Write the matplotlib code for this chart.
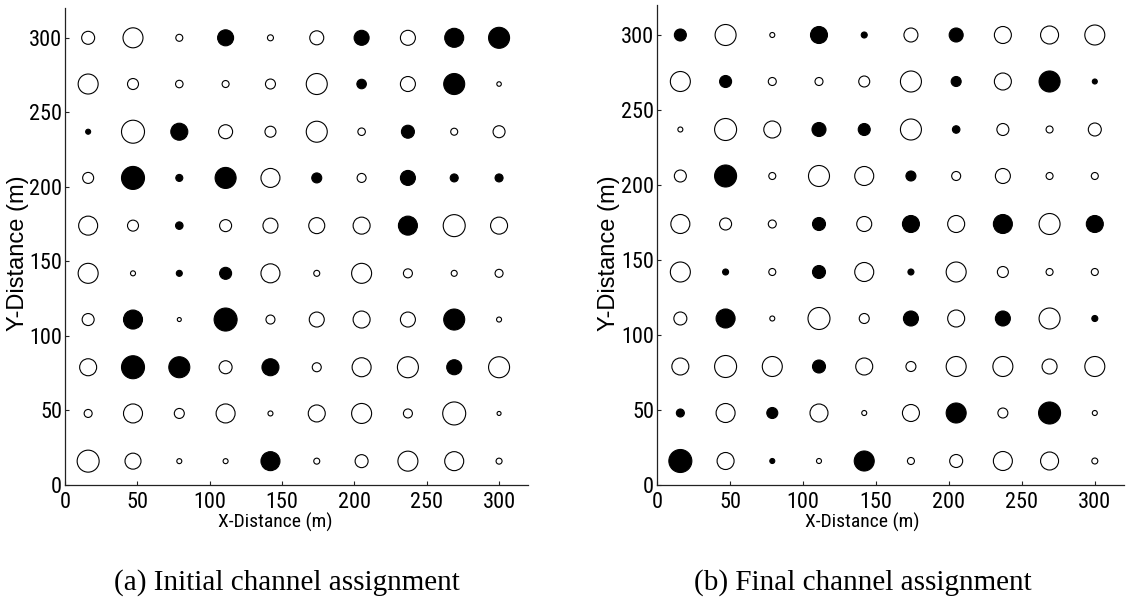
import matplotlib
matplotlib.use("Agg")
import matplotlib.pyplot as plt
from matplotlib import font_manager as fm
import numpy as np

# ---------------- data ----------------
node_x = [16, 47, 79, 111, 142, 174, 205, 237, 269, 300]
node_y = [300, 269, 237, 206, 174, 142, 111, 79, 48, 16]   # rows listed top to bottom
x_ticks = [0, 50, 100, 150, 200, 250, 300]
y_ticks = [0, 50, 100, 150, 200, 250, 300]

# circle sizes (apparent diameter) per node, rows top -> bottom
a_size = [
    [13, 20, 7, 16, 6, 14, 15, 15, 19, 21],
    [20, 11, 7.5, 7, 10, 21, 9.5, 15, 21, 4.5],
    [5, 23, 17, 14, 11, 21, 7.5, 13, 7, 12],
    [11, 23, 7, 21, 19, 10, 9, 15, 8, 8],
    [19, 11, 7.5, 12, 15, 16, 17, 19, 22, 17],
    [20, 5, 6, 12, 19, 6, 20, 9, 6, 8],
    [12, 19, 4, 23, 9, 15, 17, 15, 21, 5],
    [17, 23, 21, 13, 17, 9, 19, 21, 15, 21],
    [8, 19, 10, 19, 5, 17, 20, 9, 23, 4],
    [22, 16, 5, 5, 19, 6, 13, 20, 19, 6],
]
# 1 = filled (black), 0 = open
a_fill = [
    [0, 0, 0, 1, 0, 0, 1, 0, 1, 1],
    [0, 0, 0, 0, 0, 0, 1, 0, 1, 0],
    [1, 0, 1, 0, 0, 0, 0, 1, 0, 0],
    [0, 1, 1, 1, 0, 1, 0, 1, 1, 1],
    [0, 0, 1, 0, 0, 0, 0, 1, 0, 0],
    [0, 0, 1, 1, 0, 0, 0, 0, 0, 0],
    [0, 1, 0, 1, 0, 0, 0, 0, 1, 0],
    [0, 1, 1, 0, 1, 0, 0, 0, 1, 0],
    [0, 0, 0, 0, 0, 0, 0, 0, 0, 0],
    [0, 0, 0, 0, 1, 0, 0, 0, 0, 0],
]
b_size = [
    [12, 21, 5, 17, 6, 14, 14, 17, 18, 20],
    [20, 12, 8, 8, 11, 21, 10, 17, 21, 5],
    [5, 22, 17, 14, 12, 21, 7.5, 12, 7, 13],
    [12, 22, 7, 21, 19, 10, 9, 15, 7, 7],
    [19, 12, 8, 13, 15, 17, 17, 19, 21, 17],
    [20, 6, 7, 13, 19, 6, 20, 11, 7, 7],
    [13, 19, 5, 22, 10, 15, 17, 15, 21, 6],
    [17, 22, 20, 13, 17, 10, 20, 20, 15, 20],
    [8, 19, 11, 18, 5, 17, 20, 10, 22, 5],
    [23, 17, 5, 5, 20, 7, 13, 19, 18, 6],
]
b_fill = [
    [1, 0, 0, 1, 1, 0, 1, 0, 0, 0],
    [0, 1, 0, 0, 0, 0, 1, 0, 1, 1],
    [0, 0, 0, 1, 1, 0, 1, 0, 0, 0],
    [0, 1, 0, 0, 0, 1, 0, 0, 0, 0],
    [0, 0, 0, 1, 0, 1, 0, 1, 0, 1],
    [0, 1, 0, 1, 0, 1, 0, 0, 0, 0],
    [0, 1, 0, 0, 0, 1, 0, 1, 0, 1],
    [0, 0, 0, 1, 0, 0, 0, 0, 0, 0],
    [1, 0, 1, 0, 0, 0, 1, 0, 1, 0],
    [1, 0, 1, 0, 1, 0, 0, 0, 0, 0],
]
captions = ["(a) Initial channel assignment", "(b) Final channel assignment"]
x_label = "X-Distance (m)"
y_label = "Y-Distance (m)"

# ---------------- fonts ----------------
names = {f.name for f in fm.fontManager.ttflist}
def pick(cands):
    for c in cands:
        if c in names:
            return c
    return "DejaVu Sans"
narrow = pick(["Liberation Sans Narrow", "Roboto Condensed", "Arial Narrow", "Liberation Sans"])
sans = pick(["Liberation Sans", "Arial", "DejaVu Sans"])
serif = pick(["Liberation Serif", "Times New Roman", "DejaVu Serif"])

W, H = 1126, 603
fig = plt.figure(figsize=(W / 100, H / 100), dpi=100)

def fx(px):
    return px / W
def fy(py):
    return 1 - py / H

panels = [
    dict(rect=[fx(65), fy(485), fx(528) - fx(65), fy(8) - fy(485)],
         size=a_size, fill=a_fill, xl=(275, 522), yl=(18, 253), cap=(287, 583)),
    dict(rect=[fx(657), fy(485), fx(1124) - fx(657), fy(5) - fy(485)],
         size=b_size, fill=b_fill, xl=(862, 522), yl=(609, 253), cap=(863, 583)),
]

for p, cap in zip(panels, captions):
    ax = fig.add_axes(p["rect"])
    X, Y = np.meshgrid(node_x, node_y)
    d = np.array(p["size"], dtype=float)
    f = np.array(p["fill"])
    s = (0.72 * d) ** 2
    face = np.where(f.ravel() == 1, "black", "white")
    ax.scatter(X.ravel(), Y.ravel(), s=s.ravel(), facecolors=face,
               edgecolors="black", linewidths=0.8, zorder=3)
    ax.set_xlim(0, 320)
    ax.set_ylim(0, 320)
    ax.set_xticks(x_ticks)
    ax.set_yticks(y_ticks)
    ax.spines["top"].set_visible(False)
    ax.spines["right"].set_visible(False)
    for sp in ("left", "bottom"):
        ax.spines[sp].set_linewidth(0.9)
        ax.spines[sp].set_color("#222222")
    ax.tick_params(direction="in", length=3, width=0.8, color="#222222",
                   labelsize=16)
    ax.tick_params(axis="x", pad=5)
    ax.tick_params(axis="y", pad=2)
    for lab in ax.get_xticklabels() + ax.get_yticklabels():
        lab.set_fontfamily(narrow)
    fig.text(fx(p["xl"][0]), fy(p["xl"][1]), x_label, ha="center", va="center",
             fontsize=14, family=narrow)
    fig.text(fx(p["yl"][0]), fy(p["yl"][1]), y_label, ha="center", va="center",
             rotation=90, fontsize=17, family=sans)
    fig.text(fx(p["cap"][0]), fy(p["cap"][1]), cap, ha="center", va="center",
             fontsize=21, family=serif)

fig.savefig("out.png", dpi=100)
